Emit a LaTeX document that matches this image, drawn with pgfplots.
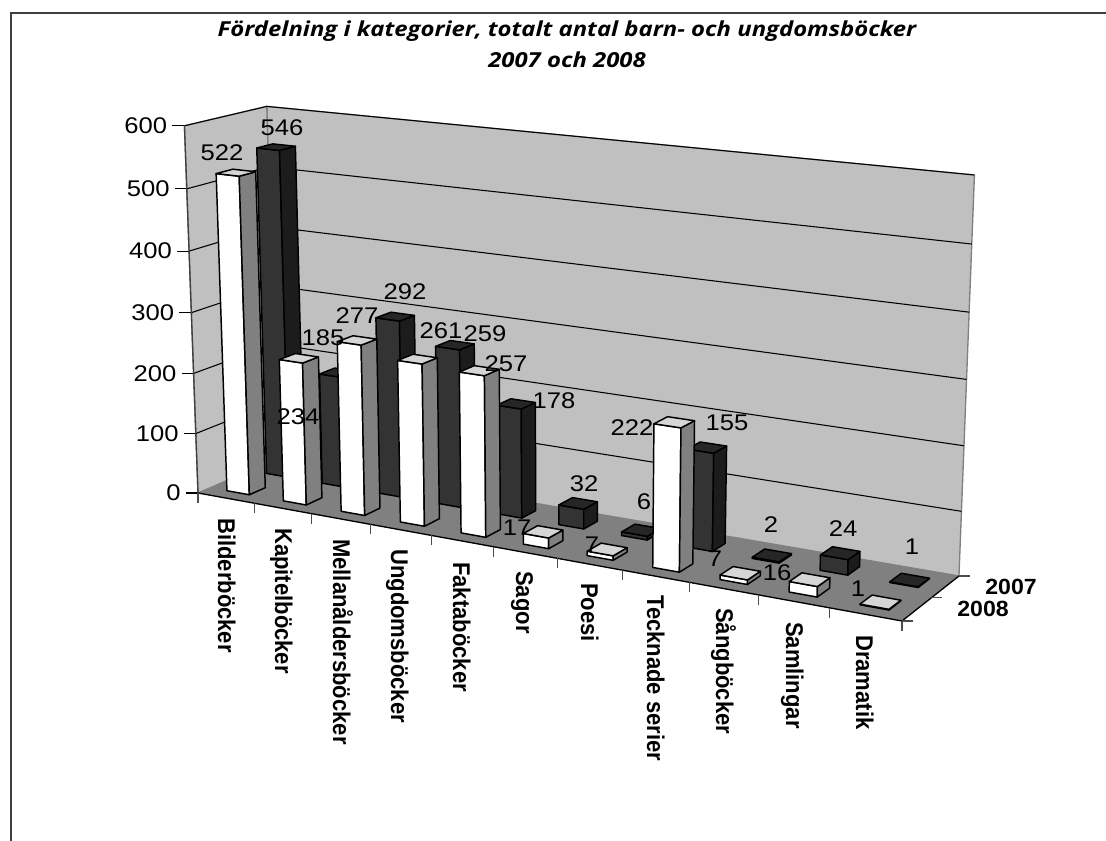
\documentclass[border=0pt]{standalone}
\usepackage{pgfplots}
\usepackage{pgfplotstable}
\usepackage{fontspec}
\pgfplotsset{compat=1.18}
\setmainfont{Liberation Sans}
\newfontfamily\titlefont{Open Sans}
\definecolor{wall}{HTML}{C0C0C0}
\definecolor{floorc}{HTML}{808080}
\definecolor{frame}{HTML}{404040}

% category, value, position of the value label (pixels)
\pgfplotstableread{
cat value lx ly
0 546 282 128
1 185 323 338
2 292 405 292
3 259 485 334
4 178 554 401
5 32 584 484
6 6 644 502
7 155 727 423
8 2 771 525
9 24 843 529
10 1 912 547
}\tabA
\pgfplotstableread{
cat value lx ly
0 522 222 153
1 234 298 417
2 277 357 316
3 261 441 331
4 257 506 364
5 17 517 528
6 7 592 545
7 222 632 428
8 7 715 559
9 16 777 573
10 1 858 589
}\tabB

% projection of the chart's box (u along categories, v in depth, w height) to the page
\def\proj#1#2#3#4{%
  \pgfmathsetmacro\den{1-0.1319*(#2)+0.04328*(#3)-0.035*(#4)}%
  \pgfmathsetmacro\xx{(198+585*(#2)+90.99*(#3)-20*(#4))/\den}%
  \pgfmathsetmacro\yy{(493+46.09*(#2)-14.13*(#3)-371.6*(#4))/\den}%
  \expandafter\edef\csname #1\endcsname{(\xx,\yy)}%
  \expandafter\edef\csname #1x\endcsname{\xx}%
  \expandafter\edef\csname #1y\endcsname{\yy}}
\def\poly#1#2{\edef\tmp{\noexpand\addplot[#1] coordinates {#2} --cycle;}\tmp}
\def\lin#1#2{\edef\tmp{\noexpand\addplot[#1] coordinates {#2};}\tmp}
\tikzset{edge/.style={draw=black,line width=1.1pt,line join=round}}

\def\drawrow#1#2#3#4#5#6{% table, v0, v1, front, side, top
  \pgfplotsforeachungrouped \i in {0,...,10}{%
    \pgfplotstablegetelem{\i}{value}\of#1%
    \pgfmathsetmacro\w{\pgfplotsretval/600}%
    \pgfmathsetmacro\ua{(\i+0.3)/11}%
    \pgfmathsetmacro\ub{(\i+0.7)/11}%
    \proj{pa}{\ua}{#2}{0}\proj{pb}{\ub}{#2}{0}\proj{pc}{\ub}{#3}{0}%
    \proj{pd}{\ua}{#2}{\w}\proj{pe}{\ub}{#2}{\w}\proj{pf}{\ub}{#3}{\w}\proj{pg}{\ua}{#3}{\w}%
    \poly{edge,fill=#4}{\pa\pb\pe\pd}%
    \poly{edge,fill=#5}{\pb\pc\pf\pe}%
    \poly{edge,fill=#6}{\pd\pe\pf\pg}%
  }}
\def\drawlabels#1{%
  \pgfplotsforeachungrouped \i in {0,...,10}{%
    \pgfplotstablegetelem{\i}{value}\of#1\let\val\pgfplotsretval
    \pgfplotstablegetelem{\i}{lx}\of#1\let\lx\pgfplotsretval
    \pgfplotstablegetelem{\i}{ly}\of#1\let\ly\pgfplotsretval
    \edef\tmp{\noexpand\node[vallab] at (axis cs:\lx,\ly) {\noexpand\scalebox{1.13}[1]{\val}};}\tmp
  }}
\tikzset{vallab/.style={inner sep=0pt,font=\fontsize{17}{18}\selectfont,text=black},
  catlab/.style={inner sep=0pt,rotate=-90,anchor=base west,font=\fontsize{16.5}{18}\selectfont\bfseries,text=black},
  serlab/.style={inner sep=0pt,font=\fontsize{16.5}{18}\selectfont\bfseries,text=black}}
\newcommand\cl[1]{\scalebox{1}[1.1]{#1}}
\newcommand\tl[1]{\scalebox{1.155}[1]{#1}}

\begin{document}
\begin{tikzpicture}
\path[use as bounding box] (0,0) rectangle (829.5pt,630.75pt);
\begin{axis}[
  at={(0,0)},anchor=south west,
  scale only axis,width=829.5pt,height=630.75pt,
  xmin=0,xmax=1106,ymin=0,ymax=841,y dir=reverse,
  hide axis,clip=true,no markers]

\lin{frame,line width=1.5pt}{(11,841)(11,13)(1106,13)}

% walls and floor
\proj{A}{0}{0}{0}\proj{B}{1}{0}{0}\proj{C}{1}{1}{0}\proj{D}{0}{1}{0}
\proj{E}{0}{0}{1}\proj{F}{0}{1}{1}\proj{G}{1}{1}{1}
\poly{fill=wall,draw=floorc,line width=1pt}{\D\C\G\F}
\poly{fill=wall,draw=floorc,line width=1pt}{\A\D\F\E}
\poly{fill=floorc,draw=none}{\A\B\C\D}

% gridlines and value ticks
\pgfplotsforeachungrouped \t in {100,200,...,600}{%
  \pgfmathsetmacro\w{\t/600}%
  \proj{ga}{0}{0}{\w}\proj{gb}{0}{1}{\w}\proj{gc}{1}{1}{\w}%
  \lin{black,line width=0.8pt}{\ga\gb\gc}%
}
\pgfplotsforeachungrouped \t in {0,100,...,600}{%
  \pgfmathsetmacro\w{\t/600}%
  \proj{ga}{0}{0}{\w}%
  \pgfmathsetmacro\tx{\gax-12}%
  \lin{black,line width=0.8pt}{(\tx,\gay)\ga}%
  \pgfmathsetmacro\lbx{\gax-17}%
  \edef\tmp{\noexpand\node[vallab,anchor=east] at (axis cs:\lbx,\gay) {\noexpand\scalebox{1.13}[1]{\t}};}\tmp
}
\lin{black!75,line width=1pt}{\A\E}
\lin{black,line width=1pt}{\A\B\C}

% category ticks
\pgfplotsforeachungrouped \k in {0,...,11}{%
  \pgfmathsetmacro\uu{\k/11}%
  \proj{ta}{\uu}{0}{0}%
  \pgfmathsetmacro\ty{\tay+10}%
  \lin{black!70,line width=0.8pt}{\ta(\tax,\ty)}%
}
% depth ticks
\pgfplotsforeachungrouped \k in {0,0.5,1}{%
  \proj{ta}{1}{\k}{0}%
  \pgfmathsetmacro\tx{\tax+11}%
  \lin{black!70,line width=0.8pt}{\ta(\tx,\tay)}%
}

% bars
\drawrow{\tabA}{0.65}{0.85}{black!80}{black!89}{black!85}
\drawrow{\tabB}{0.15}{0.35}{white}{floorc}{black!16}

% value labels
\drawlabels{\tabA}
\drawlabels{\tabB}

% category labels
\node[catlab] at (axis cs:218,518) {\cl{Bilderböcker}};
\node[catlab] at (axis cs:275,528) {\cl{Kapitelböcker}};
\node[catlab] at (axis cs:333,539) {\cl{Mellanåldersböcker}};
\node[catlab] at (axis cs:391,549) {\cl{Ungdomsböcker}};
\node[catlab] at (axis cs:453,562) {\cl{Faktaböcker}};
\node[catlab] at (axis cs:516,571) {\cl{Sagor}};
\node[catlab] at (axis cs:581,583) {\cl{Poesi}};
\node[catlab] at (axis cs:647,595) {\cl{Tecknade serier}};
\node[catlab] at (axis cs:716,608) {\cl{Sångböcker}};
\node[catlab] at (axis cs:786,622) {\cl{Samlingar}};
\node[catlab] at (axis cs:856,635) {\cl{Dramatik}};

% series labels
\node[serlab] at (axis cs:1011,587) {\scalebox{1.05}[1]{2007}};
\node[serlab] at (axis cs:983,609) {\scalebox{1.05}[1]{2008}};

% title
\node[inner sep=0pt,font=\titlefont\fontsize{15.5}{18}\selectfont\bfseries\itshape] at (axis cs:567,31) {\tl{Fördelning i kategorier, totalt antal barn- och ungdomsböcker}};
\node[inner sep=0pt,font=\titlefont\fontsize{15.5}{18}\selectfont\bfseries\itshape] at (axis cs:567,60) {\tl{2007 och 2008}};
\end{axis}
\end{tikzpicture}
\end{document}
